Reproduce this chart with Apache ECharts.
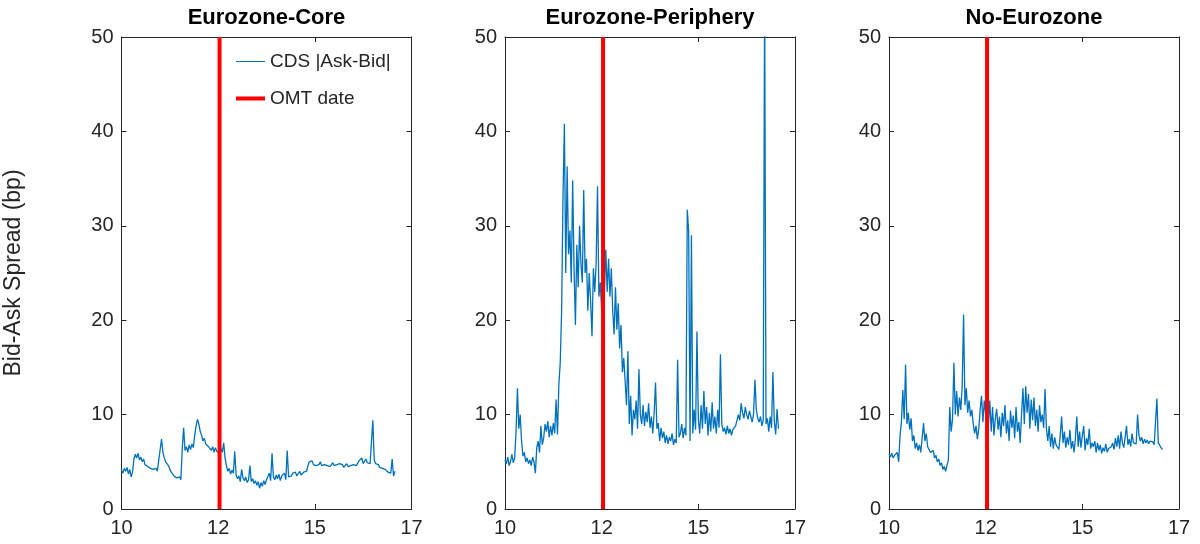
<!DOCTYPE html>
<html>
<head>
<meta charset="utf-8">
<script src="https://cdn.jsdelivr.net/npm/echarts@6/dist/echarts.min.js"></script>
<style>
  html, body { margin: 0; padding: 0; background: #ffffff; }
  #chart { width: 1200px; height: 544px; }
</style>
</head>
<body>
<div id="chart"></div>
<script>
// Tick labels of the time axis (two-digit years), placed at evenly spaced positions
const tickLabels = ['10', '12', '15', '17'];
const tickStep = 70;          // observation-index units between ticks
const axisMax = 210;          // 3 * tickStep
const omtPos = 71;            // OMT announcement position on the time axis

const panelTitles = ['Eurozone-Core', 'Eurozone-Periphery', 'No-Eurozone'];

// CDS |Ask-Bid| spread (bp), Eurozone core countries
const core = [
  4.1, 3.8, 4.3, 4.0, 4.4, 3.7, 4.2, 3.4, 3.9,
  5.3, 5.8, 5.4, 5.9, 5.2, 5.5,
  5.0, 5.3, 4.7, 4.9, 4.5, 4.6, 4.3, 4.4, 4.2,
  4.1, 4.3, 4.0,
  5.2, 6.3, 7.4, 6.0,
  5.4, 5.0, 5.2, 4.6,
  4.2, 3.9, 3.7, 3.5, 3.6, 3.3,
  3.2, 3.4, 3.1,
  6.4, 8.6,
  6.2, 6.6, 6.0, 6.8, 6.3, 6.9, 6.5,
  7.8, 8.8, 9.5, 9.0, 8.2,
  7.8, 7.2, 7.5, 6.9, 7.0, 6.6, 6.8,
  6.2, 6.6, 6.0, 6.5, 6.1, 6.3, 5.9,
  6.4, 6.0, 7.0, 5.4, 4.6,
  4.0, 4.3, 3.7, 4.1, 3.8, 6.1,
  3.6, 3.2, 3.5, 2.9, 4.2, 3.3, 3.0, 3.4, 2.8, 3.1, 4.6, 2.9, 3.2, 2.7, 3.0,
  2.5, 2.9, 2.2, 2.8, 2.4, 3.0, 2.6, 3.1,
  3.3, 3.8, 3.0, 5.9, 3.4, 3.1, 3.6,
  3.2, 3.7, 3.0, 3.5, 3.3, 3.8, 3.1, 6.2, 3.4, 3.6,
  3.5, 3.8, 3.6, 3.9, 3.5, 3.7, 4.0, 3.6, 3.8, 3.9, 4.1, 4.0,
  4.6, 5.0, 4.8, 5.1,
  4.7, 4.9, 4.6, 4.8, 4.7, 5.0, 4.6, 4.8, 4.7, 4.9, 4.6, 4.8, 4.5, 4.7, 4.9, 4.6,
  4.8, 4.7, 4.5, 4.8, 4.6, 4.7, 4.4, 4.6, 4.8, 4.5, 4.7, 4.6, 4.8, 4.7, 4.9, 4.6,
  4.8, 5.1, 4.9, 5.4, 4.8, 5.0, 5.3, 4.9, 5.1, 4.8, 5.0,
  9.4,
  5.2, 4.8, 4.6, 4.7, 4.4, 4.6, 4.3, 4.5, 4.2, 4.3,
  3.9, 3.7, 3.8, 5.3, 3.5, 4.0
];

// CDS |Ask-Bid| spread (bp), Eurozone periphery countries
const periphery = [
  5.2, 4.8, 5.5, 4.6, 5.0, 5.8, 4.9, 5.4,
  8.2, 12.8,
  8.5, 10.0, 7.2,
  5.6, 6.0, 5.0, 5.4, 4.8, 5.2, 4.6, 5.5, 5.0,
  3.8,
  6.5, 7.2, 6.0, 8.8, 6.8, 7.5, 9.0,
  8.2, 9.3, 7.6, 8.8, 7.8, 9.1, 8.0, 11.6,
  7.9,
  13.2, 15.5, 21.0,
  33.0, 40.8, 25.0, 36.3, 27.0,
  29.5, 24.0, 34.8, 25.5, 19.5, 28.0, 23.5, 30.0, 26.0, 24.0, 33.8, 25.0,
  26.5, 21.0, 25.0, 22.0, 18.3,
  25.5, 23.0, 26.0, 34.2, 22.5,
  24.0, 21.0, 19.8, 23.0,
  27.5, 23.0, 26.5, 22.5, 25.5,
  21.0, 18.5, 23.5, 19.0, 21.8,
  17.0, 19.5, 14.5, 16.0, 13.5,
  11.0, 16.7, 9.0, 12.0, 7.8, 10.5,
  9.5, 11.5, 8.5, 14.8, 10.0,
  9.0, 11.0, 8.8, 10.3, 9.2, 11.2, 8.6,
  9.8, 8.0, 10.2, 13.4,
  8.5, 9.1, 7.2, 8.6, 7.5, 8.2, 7.0, 7.8,
  6.9, 7.6, 7.2, 8.0, 6.8, 7.4, 7.0, 15.8, 7.6,
  8.0, 9.0, 7.5, 8.6, 7.8,
  31.7, 29.4, 7.2, 29.0,
  8.0, 10.5, 8.4, 18.8,
  9.5, 8.0, 11.0, 8.5, 12.5, 9.0, 10.8, 7.8, 10.2, 8.2, 11.3, 8.5, 9.8, 8.0, 10.5, 8.6, 16.4,
  9.0, 8.2, 8.6, 7.9, 8.8, 8.0, 8.5, 7.8, 8.4, 8.2, 8.8, 9.0,
  10.0, 9.4, 11.2, 10.2, 9.6, 10.8, 10.0, 9.5, 10.4, 9.8, 9.2, 10.1,
  13.7,
  10.5, 9.6, 9.2, 9.8, 8.8, 9.4,
  55.0,
  9.0, 9.6, 8.2, 9.8, 8.6,
  14.5,
  9.3, 7.9, 10.6, 8.5
];

// CDS |Ask-Bid| spread (bp), countries outside the Eurozone
const noEurozone = [
  5.8, 5.5, 5.9, 5.4, 5.7, 5.6, 6.0, 5.0,
  7.8, 9.2, 12.6, 9.5,
  15.3, 9.0, 10.2, 8.4, 9.6,
  7.2, 7.8, 6.4, 7.0, 6.2, 6.8, 6.0,
  7.5, 9.1, 7.2, 8.0, 6.6,
  6.4, 6.0, 5.8, 6.2, 5.4, 5.7, 5.0, 5.3, 4.6, 4.9, 4.2, 4.5, 4.0, 4.6, 5.2,
  10.8, 8.2, 9.5,
  15.5,
  10.0, 12.5, 9.8, 11.8, 10.5, 13.0,
  20.6,
  11.0, 12.8, 10.2, 11.5, 9.8, 10.5,
  9.0, 8.0, 8.8, 7.4, 8.5,
  10.5, 12.0, 9.2, 11.5, 10.0,
  12.8, 9.0,
  11.5, 8.2, 10.8, 7.8, 9.6,
  10.6, 8.4, 9.8, 7.6, 10.2, 8.8, 11.0, 8.0, 9.4, 7.2, 10.4, 8.6, 9.9, 7.5, 10.8, 8.2, 9.2, 7.0, 10.1,
  12.8, 9.0, 13.0, 10.2, 12.2, 8.5, 11.6,
  9.4, 11.8, 8.8, 10.5, 8.2, 11.0, 9.2, 10.0, 8.6, 12.7,
  8.5, 7.2, 8.8, 6.6, 8.0, 6.4, 7.6, 6.8, 7.0, 6.3,
  7.8, 9.8, 7.0, 8.2, 6.5, 7.6, 6.8, 8.4, 6.4, 7.2, 6.0, 7.5, 9.8, 6.6,
  8.2, 6.5, 7.8, 8.8, 6.2, 7.5, 6.8, 8.5, 6.4, 7.0,
  6.6, 7.2, 6.0, 7.0, 6.2, 6.8, 5.9, 6.5, 6.1, 6.9, 6.0, 6.4, 6.2, 6.6,
  7.0, 6.3, 7.5, 6.6, 7.8, 6.4, 8.2, 7.0, 6.5, 7.6, 8.8, 6.8, 7.4, 6.6, 8.0, 7.0, 7.2, 6.9, 10.0,
  7.8, 7.2, 7.6, 6.9, 7.4, 7.0, 7.3, 6.9, 7.2, 7.0, 7.1, 6.8, 7.0,
  11.7, 7.0,
  6.8, 6.5, 6.3
];

const panelData = [core, periphery, noEurozone];

const FONT = '"Liberation Sans", Arial, Helvetica, sans-serif';
const INK = '#262626';
const BLUE = '#0072bd';
const RED = '#ff0000';
const gridLefts = [121.5, 505, 889];
const gridTop = 37;
const gridW = 290;
const gridH = 472;

const grids = [], xAxes = [], yAxes = [], series = [], graphics = [];

panelData.forEach((vals, k) => {
  grids.push({ left: gridLefts[k], top: gridTop, width: gridW, height: gridH, containLabel: false });

  const xBase = {
    type: 'value', gridIndex: k, min: 0, max: axisMax, interval: tickStep,
    axisLine: { show: true, onZero: false, lineStyle: { color: INK, width: 1 } },
    axisTick: { show: true, inside: true, length: 5, lineStyle: { color: INK } },
    splitLine: { show: false }
  };
  xAxes.push(Object.assign({}, xBase, {
    position: 'bottom',
    axisLabel: {
      show: true, margin: 9, color: INK, fontSize: 20, fontFamily: FONT,
      formatter: v => tickLabels[Math.round(v / tickStep)]
    }
  }));
  xAxes.push(Object.assign({}, xBase, { position: 'top', axisLabel: { show: false } }));

  const yBase = {
    type: 'value', gridIndex: k, min: 0, max: 50, interval: 10,
    axisLine: { show: true, onZero: false, lineStyle: { color: INK, width: 1 } },
    axisTick: { show: true, inside: true, length: 5, lineStyle: { color: INK } },
    splitLine: { show: false }
  };
  const yLeft = Object.assign({}, yBase, {
    position: 'left',
    axisLabel: { show: true, margin: 8, color: INK, fontSize: 20, fontFamily: FONT }
  });
  if (k === 0) {
    yLeft.name = 'Bid-Ask Spread (bp)';
    yLeft.nameLocation = 'middle';
    yLeft.nameRotate = 90;
    yLeft.nameGap = 96;
    yLeft.nameTextStyle = { color: INK, fontSize: 23, fontFamily: FONT };
  }
  yAxes.push(yLeft);
  yAxes.push(Object.assign({}, yBase, { position: 'right', axisLabel: { show: false } }));

  series.push({
    name: 'CDS |Ask-Bid|', type: 'line', xAxisIndex: 2 * k, yAxisIndex: 2 * k,
    data: vals.map((v, i) => [i, v]),
    symbol: 'none', showSymbol: false, clip: true,
    lineStyle: { color: BLUE, width: 1.3 }, itemStyle: { color: BLUE },
    z: 2
  });
  series.push({
    name: 'OMT date', type: 'line', xAxisIndex: 2 * k, yAxisIndex: 2 * k,
    data: [[omtPos, 0], [omtPos, 50]],
    symbol: 'none', showSymbol: false,
    lineStyle: { color: RED, width: 4 }, itemStyle: { color: RED },
    z: 3
  });

  graphics.push({
    type: 'text', x: gridLefts[k] + gridW / 2, y: 7,
    style: {
      text: panelTitles[k], fill: '#000000', font: 'bold 22px ' + FONT,
      textAlign: 'center'
    }
  });
});

// Legend: a thin line for the spread series, a thick line for the OMT marker
const legendBase = {
  orient: 'vertical', left: 231, itemWidth: 29, icon: 'rect', itemGap: 5,
  textStyle: { color: INK, fontSize: 19, fontFamily: FONT }
};

const chart = echarts.init(document.getElementById('chart'), null, { renderer: 'canvas' });
chart.setOption({
  animation: false,
  backgroundColor: '#ffffff',
  grid: grids,
  xAxis: xAxes,
  yAxis: yAxes,
  legend: [
    Object.assign({}, legendBase, { top: 47, itemHeight: 1, data: ['CDS |Ask-Bid|'] }),
    Object.assign({}, legendBase, { top: 84, itemHeight: 4, data: ['OMT date'] })
  ],
  series: series,
  graphic: graphics
});
</script>
</body>
</html>
